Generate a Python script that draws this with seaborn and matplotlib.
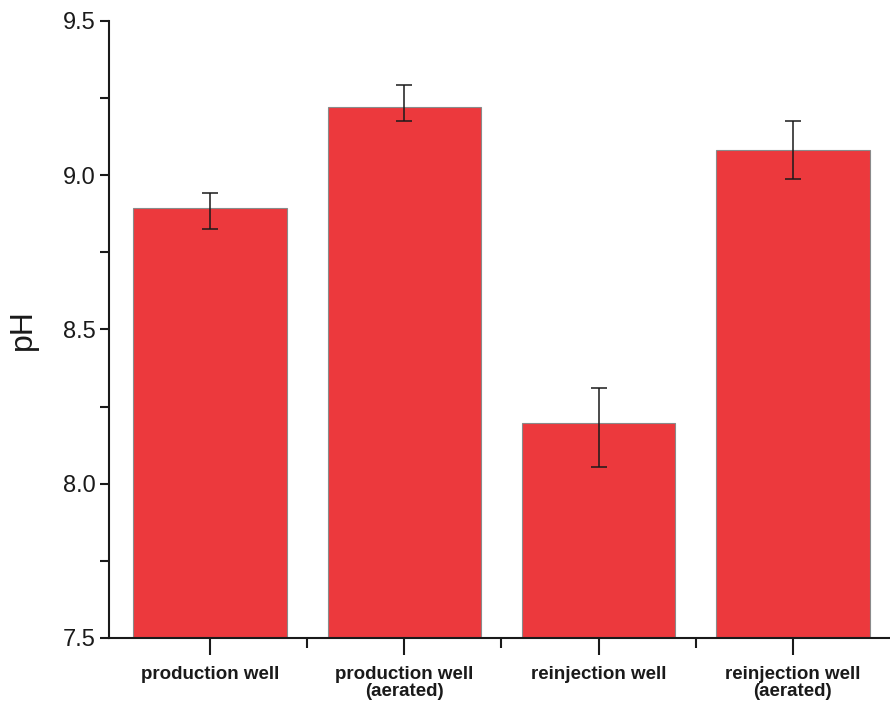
# ----------------------------------------
# Imports
import numpy as np
import pandas as pd
import seaborn as sns
import matplotlib.pyplot as plt
from matplotlib.ticker import MultipleLocator, FixedLocator
# ----------------------------------------

# Data
wells = ["production well", "production well\n(aerated)",
         "reinjection well", "reinjection well\n(aerated)"]
ph_mean = [8.895, 9.222, 8.196, 9.082]
err_low = [0.070, 0.047, 0.142, 0.094]
err_high = [0.046, 0.071, 0.115, 0.093]

bar_color = "#EC393D"
ink = "#1a1a1a"


def main():
    sns.set_style("ticks")
    plt.rcParams['font.family'] = ['Liberation Sans', 'DejaVu Sans']

    df = pd.DataFrame({"well": wells, "pH": ph_mean})

    fig = plt.figure(figsize=(8.9, 7.03), dpi=100)
    ax = fig.add_axes([0.1225, 0.0925, 0.8775, 0.8777])

    sns.barplot(data=df, x="well", y="pH", color=bar_color, saturation=1,
                edgecolor="#8a8a8a", linewidth=0.8, width=0.79,
                errorbar=None, ax=ax)

    # error bars on the same categorical positions
    pos = np.arange(len(wells))
    ax.errorbar(pos, ph_mean, yerr=[err_low, err_high], fmt="none",
                ecolor=ink, elinewidth=1.1, capsize=6, capthick=1.1)

    ax.set_ylim(7.5, 9.5)
    ax.set_xlim(-0.52, 3.5)
    ax.yaxis.set_major_locator(MultipleLocator(0.5))
    ax.yaxis.set_minor_locator(MultipleLocator(0.25))
    ax.yaxis.set_major_formatter(plt.FormatStrFormatter("%.1f"))
    ax.xaxis.set_minor_locator(FixedLocator([0.5, 1.5, 2.5]))

    for side in ["top", "right"]:
        ax.spines[side].set_visible(False)
    for side in ["left", "bottom"]:
        ax.spines[side].set_linewidth(1.5)
        ax.spines[side].set_color(ink)

    ax.tick_params(axis="y", which="both", direction="out", length=6.5,
                   width=1.5, color=ink, labelcolor=ink, labelsize=17, pad=3)
    ax.tick_params(axis="x", which="major", direction="out", length=12,
                   width=1.5, color=ink, labelcolor=ink, pad=8)
    ax.tick_params(axis="x", which="minor", direction="out", length=7,
                   width=1.5, color=ink)

    for lbl in ax.get_xticklabels():
        lbl.set_fontweight("bold")
        lbl.set_fontsize(13.5)
        lbl.set_linespacing(1.0)

    ax.set_xlabel("")
    ax.set_ylabel("pH", fontsize=23, color=ink, labelpad=18)

    fig.savefig("out.png", dpi=100)


if __name__ == "__main__":
    main()
